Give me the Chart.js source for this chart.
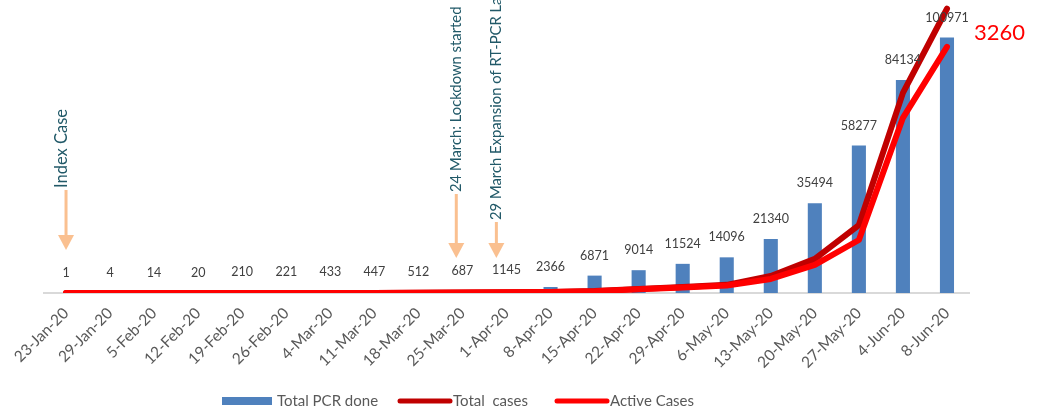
<!DOCTYPE html>
<html><head><meta charset="utf-8">
<script src="https://cdn.jsdelivr.net/npm/chart.js@4/dist/chart.umd.min.js"></script>
<style>html,body{margin:0;padding:0;background:#fff;}canvas{display:block;}</style>
</head><body>
<canvas id="c" width="1038" height="409"></canvas>
<script>
const categories = ['23-Jan-20','29-Jan-20','5-Feb-20','12-Feb-20','19-Feb-20','26-Feb-20','4-Mar-20','11-Mar-20','18-Mar-20','25-Mar-20','1-Apr-20','8-Apr-20','15-Apr-20','22-Apr-20','29-Apr-20','6-May-20','13-May-20','20-May-20','27-May-20','4-Jun-20','8-Jun-20'];
const totalPCR = [1,4,14,20,210,221,433,447,512,687,1145,2366,6871,9014,11524,14096,21340,35494,58277,84134,100971];
const totalCases = [1,1,1,1,1,1,1,1,2,5,10,14,27,54,80,108,226,452,900,2650,3764];
const activeCases = [1,1,1,1,1,1,1,1,2,5,9,12,24,50,74,100,186,372,702,2320,3260];
const seriesNames = ['Total PCR done','Total  cases','Active Cases'];
const annotationTexts = ['Index Case','24 March: Lockdown started','29 March Expansion of RT-PCR Labs'];
const annotationAt = [0, 8.86, 9.77];

const annotationLayout = [
  {dx:-4.5, size:16.5, textBottom:188, arrowTop:190, arrowBottom:250},
  {dx:-0.5, size:14.8, textBottom:192, arrowTop:194, arrowBottom:258},
  {dx:0, size:14.8, textBottom:220, arrowTop:222, arrowBottom:258}
];

const labelPlugin = {
  id:'labelPlugin',
  afterDatasetsDraw(chart){
    const ctx = chart.ctx;
    ctx.save();
    const meta = chart.getDatasetMeta(0);
    ctx.font = '12.5px Lato';
    ctx.fillStyle = '#404040';
    ctx.textAlign = 'center';
    ctx.textBaseline = 'middle';
    meta.data.forEach((el,i)=>{ ctx.fillText(String(totalPCR[i]), el.x, el.y - 20); });
    ctx.font = '22px Lato';
    ctx.fillStyle = '#FF0000';
    ctx.textAlign = 'left';
    [[1,totalCases,-16],[2,activeCases,-14]].forEach(([di,arr,dy])=>{
      const m = chart.getDatasetMeta(di);
      const el = m.data[m.data.length-1];
      ctx.fillText(String(arr[arr.length-1]), el.x + 27, el.y + dy);
    });
    ctx.restore();
  },
  afterDraw(chart){
    const ctx = chart.ctx;
    const xs = chart.scales.x;
    ctx.save();
    annotationTexts.forEach((t,i)=>{
      const L = annotationLayout[i];
      const x = xs.getPixelForValue(annotationAt[i]);
      ctx.strokeStyle = '#FAC090';
      ctx.fillStyle = '#FAC090';
      ctx.lineWidth = 3;
      ctx.beginPath();
      ctx.moveTo(x, L.arrowTop);
      ctx.lineTo(x, L.arrowBottom - 14);
      ctx.stroke();
      ctx.beginPath();
      ctx.moveTo(x - 8, L.arrowBottom - 15);
      ctx.lineTo(x + 8, L.arrowBottom - 15);
      ctx.lineTo(x, L.arrowBottom);
      ctx.closePath();
      ctx.fill();
      ctx.save();
      ctx.translate(x + L.dx, L.textBottom);
      ctx.rotate(-Math.PI/2);
      ctx.font = L.size + 'px Lato';
      ctx.fillStyle = '#215968';
      ctx.textAlign = 'left';
      ctx.textBaseline = 'middle';
      ctx.fillText(t, 0, 0);
      ctx.restore();
    });
    const ds = chart.data.datasets;
    const legendX = [222, 398, 555];
    const ly = 401;
    ctx.font = '15px Lato';
    ctx.textAlign = 'left';
    ctx.textBaseline = 'middle';
    ds.forEach((d,i)=>{
      const x0 = legendX[i];
      if (i === 0) {
        ctx.fillStyle = d.backgroundColor;
        ctx.fillRect(x0, ly - 4, 50, 8);
      } else {
        ctx.strokeStyle = d.borderColor;
        ctx.lineWidth = 5;
        ctx.lineCap = 'round';
        ctx.beginPath();
        ctx.moveTo(x0 + 2, ly);
        ctx.lineTo(x0 + 52, ly);
        ctx.stroke();
      }
      ctx.fillStyle = '#595959';
      ctx.fillText(d.label, x0 + 55, ly);
    });
    ctx.restore();
  }
};

new Chart(document.getElementById('c'), {
  type:'bar',
  data:{
    labels: categories,
    datasets:[
      {type:'bar', label:seriesNames[0], data:totalPCR, backgroundColor:'#4F81BD', yAxisID:'y', order:3, barPercentage:0.32, categoryPercentage:1},
      {type:'line', label:seriesNames[1], data:totalCases, borderColor:'#C00000', backgroundColor:'#C00000', borderWidth:6, pointRadius:0, tension:0, yAxisID:'y2', order:2, borderCapStyle:'round', borderJoinStyle:'round', fill:false},
      {type:'line', label:seriesNames[2], data:activeCases, borderColor:'#FF0000', backgroundColor:'#FF0000', borderWidth:6, pointRadius:0, tension:0, yAxisID:'y2', order:1, borderCapStyle:'round', borderJoinStyle:'round', fill:false}
    ]
  },
  options:{
    responsive:false,
    animation:false,
    layout:{padding:{left:44, right:69, top:0, bottom:30}},
    plugins:{legend:{display:false}, tooltip:{enabled:false}},
    scales:{
      x:{
        offset:true,
        grid:{display:false, drawTicks:false},
        border:{display:true, color:'#D9D9D9', width:2},
        ticks:{minRotation:45, maxRotation:45, autoSkip:false, color:'#595959', font:{family:'Lato', size:15.5}, padding:11},
        afterFit(s){ s.height = 86; }
      },
      y:{display:false, min:0, max:115800},
      y2:{display:false, min:0, max:3880, position:'right'}
    }
  },
  plugins:[labelPlugin]
});
</script>
</body></html>
